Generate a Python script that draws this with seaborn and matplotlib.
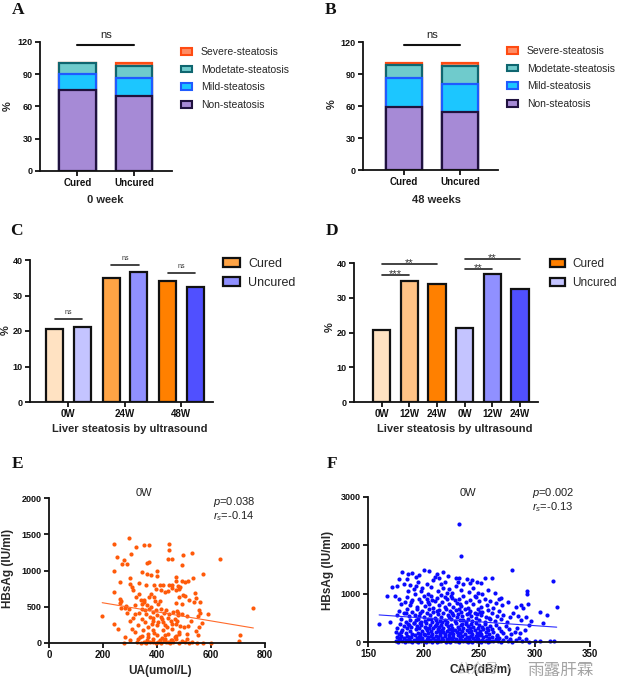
import numpy as np
import pandas as pd
import matplotlib
matplotlib.use("Agg")
import matplotlib.pyplot as plt
import seaborn as sns
from matplotlib.patches import Patch

# ---------------- data ----------------
groups = ["Cured", "Uncured"]
grades = ["Non-steatosis", "Mild-steatosis", "Modetate-steatosis", "Severe-steatosis"]
a_cured = [75.2, 15.1, 9.7, 0.0]
a_uncured = [69.6, 16.7, 11.7, 2.0]
b_cured = [59.0, 27.3, 11.8, 1.9]
b_uncured = [54.7, 25.6, 17.5, 2.2]

c_weeks = ["0W", "24W", "48W"]
c_cured = [20.6, 34.8, 34.1]
c_uncured = [21.2, 36.7, 32.4]
c_sig_height = [23.3, 38.5, 36.4]

d_groups = ["Cured"] * 3 + ["Uncured"] * 3
d_weeks = ["0W", "12W", "24W", "0W", "12W", "24W"]
d_pct = [20.6, 34.8, 34.1, 21.2, 36.7, 32.4]

e_points = [
    (240,1370),(297,1450),(322,1330),(352,1355),(371,1345),(446,1370),(445,1285),(302,1230),(250,1185),(528,1235),
    (495,1220),(277,1140),(270,1095),(290,1095),(370,1120),(364,1105),(441,1165),(454,1165),(634,1155),(491,1080),
    (241,990),(346,985),(400,1000),(362,945),(377,940),(571,945),(470,905),(534,895),(300,890),(400,925),
    (299,820),(263,835),(333,830),(359,805),(390,805),(411,805),(421,805),(444,805),(454,805),(472,850),
    (491,855),(503,840),(516,850),(307,770),(311,725),(414,725),(477,790),(486,775),(481,745),(470,725),
    (241,705),(377,680),(332,680),(370,635),(389,635),(411,575),(352,590),(263,610),(339,590),(343,535),
    (322,635),(497,665),(503,645),(481,630),(541,685),(519,600),(538,570),(559,570),(494,535),(350,565),
    (362,520),(405,535),(393,580),(470,550),(430,700),(455,760),(265,585),(320,530),(285,505),(440,720),(395,740),
    (197,375),(263,550),(267,485),(283,485),(298,470),(369,475),(378,495),(356,450),(387,425),(414,475),
    (426,415),(435,450),(444,405),(460,425),(473,435),(479,380),(476,420),(494,395),(511,375),(550,375),
    (560,410),(757,485),(555,450),(545,620),(343,335),(356,290),(368,220),(380,265),(374,360),(387,310),
    (399,245),(414,360),(421,290),(436,220),(454,265),(467,335),(241,265),(257,200),(475,305),(487,235),
    (499,215),(516,235),(556,215),(545,165),(320,400),(335,420),(310,350),(345,470),(400,380),(420,330),
    (450,300),(470,260),(300,300),(330,250),(395,455),(360,400),(385,350),(405,290),(430,255),(440,345),
    (290,410),(525,310),(565,270),(590,405),
    (307,200),(320,150),(349,175),(368,120),(387,175),(399,105),(421,175),(440,130),(455,200),(470,90),
    (281,85),(337,85),(362,35),(387,60),(412,35),(430,60),(455,35),(467,85),(707,105),(702,28),
    (494,30),(470,50),(517,5),(547,0),(571,0),(278,5),(325,10),(340,0),(350,15),(360,5),
    (375,20),(385,8),(395,0),(405,12),(415,3),(425,25),(435,8),(442,15),(448,0),(452,40),
    (460,10),(480,5),(505,8),(530,15),(600,5),(345,100),(390,140),(430,110),(480,150),(510,60),
    (550,110),(365,80),(420,70),(300,45),(330,55),(480,120),(510,130),
]
e_fit_x = [197, 757]
e_fit_y = [556, 207]

f_points = [
    (232,2440),(234,1770),(280,1480),(317,1265),(320,730),(293,1060),(293,1000),(270,910),
    (178,1300),(185,1310),(186,1400),(190,1430),(196,1380),(200,1490),(205,1460),(212,1400),(218,1450),(222,1360),
    (229,1330),(232,1320),(244,1290),(248,1250),(252,1230),(255,1320),(262,1320),(210,1350),(214,1330),(193,1340),
    (181,1450),(239,1310),
    (176,1150),(182,1200),(188,1180),(191,1100),(195,1250),(198,1050),(203,1210),(207,1130),(209,1280),(213,1060),
    (216,1190),(219,1250),(223,1100),(226,1020),(229,1150),(234,1070),(236,1200),(241,1040),(245,1120),(249,1010),
    (253,1000),(258,1080),(264,1020),(186,1050),(199,1120),(221,1010),(231,1240),(204,1000),(193,1160),(218,1120),
    (242,1230),(172,1130),
    (167,960),(174,950),(178,880),(180,790),(183,820),(185,930),(188,760),(190,870),(192,990),(194,720),
    (196,900),(198,820),(200,950),(201,740),(203,880),(205,780),(207,960),(209,700),(210,850),(212,910),
    (214,760),(216,980),(217,820),(219,720),(221,890),(223,790),(225,950),(227,730),(228,860),(230,800),
    (232,900),(234,740),(236,960),(238,820),(240,710),(242,870),(245,780),(247,930),(250,840),(252,720),
    (255,900),(257,770),(260,850),(263,710),(265,800),(268,900),(271,760),(276,830),(283,720),(288,760),
    (290,700),(294,790),(204,830),(226,920),(189,830),(246,960),(233,780),(219,930),(208,870),
    (170,420),(176,560),(178,650),(180,480),(182,600),(184,420),(185,690),(187,530),(188,450),(190,620),
    (191,400),(192,560),(194,680),(195,470),(197,590),(198,420),(199,650),(200,520),(201,440),(203,610),
    (204,480),(205,690),(206,560),(208,410),(209,630),(210,500),(211,450),(213,580),(214,670),(215,430),
    (216,520),(218,600),(219,460),(220,690),(221,410),(222,550),(224,640),(225,480),(226,590),(228,430),
    (229,660),(230,510),(231,570),(233,450),(234,620),(235,530),(237,690),(238,410),(239,580),(240,480),
    (242,650),(243,540),(244,430),(246,600),(247,500),(249,680),(250,450),(252,560),(253,620),(255,410),
    (256,520),(258,660),(260,470),(262,590),(264,430),(266,540),(268,640),(270,480),(272,560),(275,420),
    (278,520),(281,590),(285,540),(288,450),(292,520),(297,440),(305,614),(311,560),(184,610),(207,480),
    (223,520),(236,460),(248,580),(259,500),(196,530),(212,640),(227,550),(241,610),(193,450),(217,410),
    (232,680),(251,620),
    (160,375),(175,200),(176,300),(178,160),(179,380),(181,250),(182,330),(184,180),(185,290),(186,370),
    (188,220),(189,310),(190,160),(191,390),(193,260),(194,340),(195,190),(196,280),(198,360),(199,230),
    (200,170),(201,320),(202,390),(203,250),(204,190),(205,300),(206,360),(207,220),(208,160),(209,280),
    (210,340),(211,200),(212,390),(213,260),(214,310),(215,180),(216,350),(217,240),(218,290),(219,170),
    (220,380),(221,220),(222,330),(223,270),(224,190),(225,360),(226,300),(227,160),(228,240),(229,390),
    (230,210),(231,320),(232,270),(233,180),(234,350),(235,230),(236,300),(237,160),(238,380),(239,250),
    (240,330),(241,200),(242,280),(243,370),(244,170),(245,310),(246,240),(247,390),(248,190),(249,290),
    (250,350),(251,220),(252,160),(253,320),(254,260),(255,380),(256,200),(257,300),(258,240),(259,170),
    (260,340),(262,270),(263,200),(265,360),(266,150),(268,300),(270,230),(272,180),(274,330),(277,260),
    (279,160),(282,210),(284,300),(287,180),(291,240),(295,350),(308,400),(180,200),(187,350),(197,170),
    (202,280),(211,360),(218,200),(226,220),(235,370),(243,230),(250,170),(197,390),(214,230),
    (175,30),(176,100),(177,10),(178,60),(180,120),(181,20),(182,80),(183,5),(184,40),(185,130),
    (186,15),(187,70),(188,30),(189,110),(190,10),(191,50),(192,140),(193,20),(194,90),(195,5),
    (196,45),(197,120),(198,15),(199,75),(200,30),(201,140),(202,8),(203,60),(204,100),(205,20),
    (206,50),(207,130),(208,10),(209,85),(210,35),(211,115),(212,5),(213,65),(214,25),(215,145),
    (216,15),(217,90),(218,40),(219,120),(220,10),(221,70),(222,30),(223,135),(224,5),(225,80),
    (226,45),(227,110),(228,15),(229,60),(230,25),(231,140),(232,8),(233,95),(234,35),(235,125),
    (236,12),(237,70),(238,30),(239,105),(240,5),(241,55),(242,20),(243,130),(244,10),(245,85),
    (246,40),(247,115),(248,15),(249,65),(250,25),(251,140),(252,8),(253,50),(254,95),(255,20),
    (256,120),(257,35),(258,10),(259,75),(260,30),(262,110),(263,15),(265,55),(266,130),(267,25),
    (268,80),(270,10),(272,45),(274,100),(276,20),(278,70),(280,10),(283,40),(286,90),(289,15),
    (292,60),(295,10),(300,30),(305,20),(314,20),(318,20),(179,90),(196,110),(213,100),(233,60),
    (248,100),(187,110),(223,90),(241,100),
]
f_fit_x = [160, 320]
f_fit_y = [560, 307]

# ---------------- style ----------------
grade_fill = ["#A68AD6", "#1CC6FF", "#6FCBCC", "#FF8C63"]
grade_edge = ["#20123F", "#1F5BFF", "#0F6670", "#FF4B12"]
c_cured_colors = ["#FFE2C2", "#FFA445", "#FF8000"]
c_uncured_colors = ["#C4C4FF", "#9090FF", "#5050FF"]
d_colors = ["#FFE2C2", "#FFC285", "#FF8000", "#C4C4FF", "#9090FF", "#5050FF"]

sns.set_theme(style="ticks")
plt.rcParams["font.family"] = ["Liberation Sans", "DejaVu Sans"]
plt.rcParams["font.weight"] = "bold"
plt.rcParams["axes.labelweight"] = "bold"
plt.rcParams["mathtext.fontset"] = "custom"
plt.rcParams["mathtext.it"] = "Liberation Sans:style=italic:weight=normal"
plt.rcParams["mathtext.rm"] = "Liberation Sans:weight=normal"

W, H = 617, 695
fig = plt.figure(figsize=(W / 100, H / 100), dpi=100)
fig.patch.set_facecolor("white")


def rect(l, t, r, b):
    return [l / W, 1 - b / H, (r - l) / W, (b - t) / H]


def fp(x, y):
    return (x / W, 1 - y / H)


def style(ax, lw=1.3):
    sns.despine(ax=ax)
    for s in ["left", "bottom"]:
        ax.spines[s].set_linewidth(lw)
        ax.spines[s].set_color("#111111")
    ax.tick_params(width=lw, length=3.5, pad=1.8, color="#111111", labelcolor="#111111")
    ax.tick_params(axis="x", labelsize=7)
    ax.tick_params(axis="y", labelsize=6.5)
    ax.set_facecolor("white")


def labels(ax, xl, xlpos, yl, ylpos, size=8):
    ax.set_xlabel(xl, fontsize=size, fontweight="bold")
    ax.set_ylabel(yl, fontsize=size, fontweight="bold")
    ax.xaxis.set_label_coords(*fp(*xlpos), transform=fig.transFigure)
    ax.yaxis.set_label_coords(*fp(*ylpos), transform=fig.transFigure)


def panel_letter(ch, x, y):
    fig.text(*fp(x, y), ch, family=["Liberation Serif"], fontweight="bold", fontsize=12.5,
             ha="center", va="center", color="#111111")


def stacked(ax, cured, uncured):
    cum_c = np.cumsum(cured)
    cum_u = np.cumsum(uncured)
    for i in reversed(range(len(grades))):
        df = pd.DataFrame({"group": groups, "pct": [cum_c[i], cum_u[i]]})
        sns.barplot(data=df, x="group", y="pct", color=grade_fill[i], edgecolor=grade_edge[i],
                    linewidth=1.6, width=0.65, saturation=1, ax=ax)
    ax.set_ylim(0, 120)
    ax.set_yticks([0, 30, 60, 90, 120])
    ax.set_xlim(-0.66, 1.67)
    ax.plot([0, 1], [117.5, 117.5], color="#111111", lw=1.5, clip_on=False)
    ax.text(0.5, 121.5, "ns", ha="center", va="bottom", fontsize=8, fontweight="normal", color="#222222")


def grade_legend(ax, x, y):
    handles = [Patch(facecolor=grade_fill[i], edgecolor=grade_edge[i], linewidth=1.5) for i in reversed(range(4))]
    fig.legend(handles, list(reversed(grades)), loc="upper left", bbox_to_anchor=fp(x, y),
               frameon=False, borderpad=0, borderaxespad=0, handlelength=1.1,
               handleheight=0.6, handletextpad=0.8, labelspacing=0.74,
               prop={"weight": "normal", "size": 7.5})


# ---------------- A ----------------
axA = fig.add_axes(rect(40, 42, 172, 171))
stacked(axA, a_cured, a_uncured)
style(axA)
labels(axA, "0 week", (105, 195), "%", (13, 106))
grade_legend(axA, 181, 47)
panel_letter("A", 18, 10)

# ---------------- B ----------------
axB = fig.add_axes(rect(363, 42, 498, 170))
stacked(axB, b_cured, b_uncured)
axB.set_xlim(-0.73, 1.68)
style(axB)
labels(axB, "48 weeks", (437, 195), "%", (337, 104))
grade_legend(axB, 507, 46)
panel_letter("B", 331, 10)

# ---------------- C ----------------
axC = fig.add_axes(rect(30, 260, 213, 402))
dfc = pd.DataFrame({"week": c_weeks * 2, "group": ["Cured"] * 3 + ["Uncured"] * 3,
                    "pct": c_cured + c_uncured})
sns.barplot(data=dfc, x="week", y="pct", hue="group", width=0.97, gap=0.38,
            palette={"Cured": c_cured_colors[1], "Uncured": c_uncured_colors[1]},
            edgecolor="#111111", linewidth=1.6, saturation=1, legend=False, ax=axC)
for cont, cols in zip(axC.containers, [c_cured_colors, c_uncured_colors]):
    for bar, col in zip(cont, cols):
        bar.set_facecolor(col)
axC.set_ylim(0, 40)
axC.set_yticks([0, 10, 20, 30, 40])
axC.set_xlim(-0.68, 2.56)
for i, h in enumerate(c_sig_height):
    axC.plot([i - 0.2425, i + 0.2425], [h, h], color="#222222", lw=1.2, clip_on=False)
    axC.text(i, h + 0.9, "ns", ha="center", va="bottom", fontsize=5, fontweight="normal", color="#333333")
style(axC)
labels(axC, "Liver steatosis by ultrasound", (130, 424), "%", (11, 330))
axC.legend([Patch(facecolor=c_cured_colors[1], edgecolor="#111111", linewidth=1.6),
            Patch(facecolor=c_uncured_colors[1], edgecolor="#111111", linewidth=1.6)],
           groups, loc="upper left", bbox_to_anchor=fp(223, 258), bbox_transform=fig.transFigure,
           frameon=False, borderpad=0, borderaxespad=0, handlelength=1.35, handleheight=0.65,
           handletextpad=0.65, labelspacing=0.55, prop={"weight": "normal", "size": 9})
panel_letter("C", 16, 231)

# ---------------- D ----------------
axD = fig.add_axes(rect(354, 263, 538, 402))
d_keys = [g + " " + w for g, w in zip(d_groups, d_weeks)]
sns.barplot(x=d_keys, y=d_pct, hue=d_keys, palette=d_colors, width=0.62,
            edgecolor="#111111", linewidth=1.6, saturation=1, legend=False, ax=axD)
axD.set_xticks(range(len(d_weeks)))
axD.set_xticklabels(d_weeks)
axD.set_ylim(0, 40)
axD.set_yticks([0, 10, 20, 30, 40])
axD.set_xlim(-1.0, 5.65)
d_sig = [((0, 1), 36.5, "***"), ((0, 2), 39.7, "**"), ((3, 4), 38.2, "**"), ((3, 5), 41.2, "**")]
for (a, b), h, s in d_sig:
    axD.plot([a, b], [h, h], color="#222222", lw=1.2, clip_on=False)
    axD.text((a + b) / 2, h + 0.3, s, ha="center", va="center", fontsize=8,
             fontweight="normal", color="#333333", clip_on=False)
style(axD)
labels(axD, "Liver steatosis by ultrasound", (455, 424), "%", (335, 327))
axD.legend([Patch(facecolor="#FF8000", edgecolor="#111111", linewidth=1.6),
            Patch(facecolor="#C4C4FF", edgecolor="#111111", linewidth=1.6)],
           groups, loc="upper left", bbox_to_anchor=fp(550, 258), bbox_transform=fig.transFigure,
           frameon=False, borderpad=0, borderaxespad=0, handlelength=1.3, handleheight=0.65,
           handletextpad=0.6, labelspacing=0.6, prop={"weight": "normal", "size": 8.5})
panel_letter("D", 332, 231)

# ---------------- E ----------------
axE = fig.add_axes(rect(49, 498, 265, 643))
e_ua = [p[0] for p in e_points]
e_hbs = [p[1] for p in e_points]
sns.scatterplot(x=e_ua, y=e_hbs, color="#FF5A0A", s=9, linewidth=0, ax=axE, clip_on=False)
sns.lineplot(x=e_fit_x, y=e_fit_y, color="#FF6A2A", lw=0.8, ax=axE)
axE.set_xlim(0, 800)
axE.set_ylim(0, 2000)
axE.set_xticks([0, 200, 400, 600, 800])
axE.set_yticks([0, 500, 1000, 1500, 2000])
style(axE)
labels(axE, "UA(umol/L)", (160, 665), "HBsAg (IU/ml)", (14, 568), size=8.5)
fig.text(*fp(144, 493), "0W", ha="center", va="center", fontsize=8, fontweight="normal", color="#222222")
fig.text(*fp(213, 502), "$p$=0.038", ha="left", va="center", fontsize=8, fontweight="normal", color="#222222")
fig.text(*fp(213, 516), "$r_s$=-0.14", ha="left", va="center", fontsize=8, fontweight="normal", color="#222222")
panel_letter("E", 18, 464)

# ---------------- F ----------------
axF = fig.add_axes(rect(368, 497, 590, 642))
f_cap = [p[0] for p in f_points]
f_hbs = [p[1] for p in f_points]
sns.scatterplot(x=f_cap, y=f_hbs, color="#0A0AFF", s=9, linewidth=0, ax=axF, clip_on=False)
sns.lineplot(x=f_fit_x, y=f_fit_y, color="#2A2AFF", lw=0.8, ax=axF)
axF.set_xlim(150, 350)
axF.set_ylim(0, 3000)
axF.set_xticks([150, 200, 250, 300, 350])
axF.set_yticks([0, 1000, 2000, 3000])
style(axF)
labels(axF, "CAP(dB/m)", (481, 664), "HBsAg (IU/ml)", (334, 570), size=8.5)
fig.text(*fp(468, 493), "0W", ha="center", va="center", fontsize=8, fontweight="normal", color="#222222")
fig.text(*fp(532, 493), "$p$=0.002", ha="left", va="center", fontsize=8, fontweight="normal", color="#222222")
fig.text(*fp(532, 507), "$r_s$=-0.13", ha="left", va="center", fontsize=8, fontweight="normal", color="#222222")
panel_letter("F", 332, 464)

# watermark
fig.text(*fp(457, 670), "公众号 ·", family=["Noto Sans CJK SC", "DejaVu Sans"], fontsize=10,
         fontweight="normal", color="#BBBBBB", ha="left", va="center", alpha=0.8)
fig.text(*fp(527, 670), "雨露肝霖", family=["Noto Sans CJK SC", "DejaVu Sans"], fontsize=12,
         fontweight="normal", color="#9A9A9A", ha="left", va="center", alpha=0.9)

fig.savefig("out.png", dpi=100, facecolor="white")
